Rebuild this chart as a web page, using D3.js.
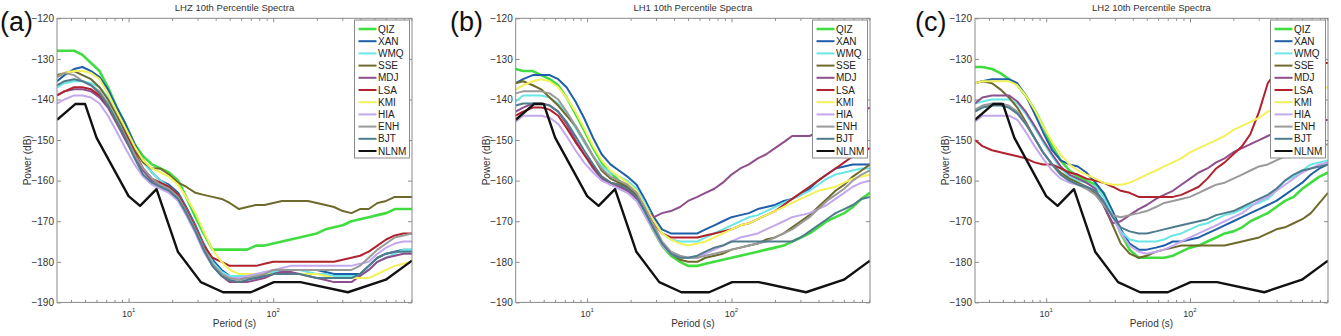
<!DOCTYPE html>
<html>
<head>
<meta charset="utf-8">
<script src="https://cdn.jsdelivr.net/npm/d3@7"></script>
<style>
  body { margin: 0; background: #fff; }
  svg { display: block; font-family: "Liberation Sans", Arial, sans-serif; }
  .tick text { fill: #333; font-size: 10px; }
  .domain { display: none; }
  .tick line { stroke: #8a8a8a; }
</style>
</head>
<body>
<script>
// period grid (s) shared by all station curves
const periods = [3.2, 3.6, 4.2, 4.8, 5.5, 6.3, 7.2, 8.3, 9.5, 11, 12.6, 14.5, 16.6, 19, 22, 25, 29, 33, 38, 44,
  50, 58, 66, 76, 87, 100, 115, 132, 152, 174, 200, 230, 263, 302, 347, 398, 457, 525, 603, 692, 794, 910];

const stations = ['QIZ', 'XAN', 'WMQ', 'SSE', 'MDJ', 'LSA', 'KMI', 'HIA', 'ENH', 'BJT'];
const stationColors = ['#40dc40', '#1f5fa8', '#6ae6e6', '#6e6a2c', '#8e4f8c', '#b0222e', '#f3f15a', '#c4a8ee', '#9a9a9a', '#4f7c8c'];

// Peterson new low noise model
const nlnmPeriod = [3.2, 4.3, 5.0, 6.0, 10, 12, 15.6, 21.9, 31.6, 45, 70, 101, 154, 328, 600, 910];
const nlnmPower = [-145, -141.1, -141.1, -149.4, -163.8, -166.2, -162.1, -177.5, -185, -187.5, -187.5, -185, -185, -187.5, -184.4, -179.7];

const yTicks = [-190, -180, -170, -160, -150, -140, -130, -120];
const xMajor = [10, 100];
const xMinor = [4, 5, 6, 7, 8, 9, 20, 30, 40, 50, 60, 70, 80, 90, 200, 300, 400, 500, 600, 700, 800, 900];

// ---- LHZ ----
const LHZ_QIZ = [-128,-128,-128,-129,-131,-133,-137,-142,-146,-151, -154,-156,-157,-158,-160,-164,-169,-173,-177,-177,
  -177,-177,-177,-176,-176,-175.5,-175,-174.5,-174,-173.5, -173,-172,-171.5,-171,-170,-169.5,-169,-168.5,-168,-167, -167,-167];
const LHZ_XAN = [-135.5,-134,-132.5,-132,-133,-134.5,-137.5,-142,-146,-151, -155,-158,-160,-161,-163,-166.5,-171,-175.5,-179.5,-182,
  -183.5,-184,-184,-184,-183.5,-183,-182,-182,-182,-182, -182,-182.5,-183,-183,-183,-183,-181,-179,-178,-177.5, -177,-177];
const LHZ_WMQ = [-137,-136,-135.5,-135.5,-136,-137,-139.5,-143.5,-147.5,-152, -155.5,-158,-160,-161.5,-163.5,-167,-171.5,-176,-180,-182.5,
  -183.5,-183.5,-183.5,-183,-183,-182.5,-182,-182,-182,-182.5, -183,-183,-183.5,-183.5,-183.5,-183.5,-182,-180,-179,-178, -177,-177];
const LHZ_SSE = [-134,-133.5,-133,-134,-135,-137,-140,-144,-148,-152.5, -155.5,-157,-157,-158.5,-160.5,-161.5,-163,-163.5,-164,-164.5,
  -165.5,-167,-166.5,-166,-166,-165.5,-165,-165,-165,-165, -165.5,-166,-166.5,-167.5,-168,-167,-167,-165.5,-165,-164, -164,-164];
const LHZ_MDJ = [-139,-138,-137.5,-137.5,-138,-139.5,-142,-146,-150,-154, -157.5,-160,-161,-162,-164,-167.5,-172,-177,-181,-183.5,
  -185,-185,-185,-184.5,-184,-183,-182.5,-182.5,-183,-183.5, -184,-184.5,-185,-185,-185,-183.5,-182,-180,-179,-178.5, -178,-178];
const LHZ_LSA = [-139,-138,-137,-137,-137.5,-139,-141.5,-145.5,-148.5,-153, -157,-159.5,-160.5,-161.5,-163.5,-167,-171.5,-176,-179,-180,
  -181,-181,-181,-181,-180.5,-180,-180,-180,-180,-180, -180,-180,-180,-179.5,-179,-178.5,-177.5,-176,-174.5,-173.5, -173,-173];
const LHZ_KMI = [-134.5,-133.5,-133,-133,-133.5,-135,-138.5,-143,-147,-151.5, -155,-157,-158,-159,-161,-164,-168,-172.5,-177,-180,
  -182,-183,-183,-183,-183,-183,-183,-183,-183,-183, -183,-183.5,-184,-184,-184,-184,-184,-183,-182,-181, -180.5,-180];
const LHZ_HIA = [-141,-140,-139,-139,-139.5,-141,-144,-148,-152,-156, -159,-161,-162,-163,-165,-168.5,-173,-177.5,-181,-183,
  -184,-184,-183.5,-183,-182.5,-182,-181.5,-181,-181,-181, -181,-181,-181,-181,-181,-180.5,-180,-178,-176.5,-175.5, -175,-175];
const LHZ_ENH = [-134.5,-133.5,-134,-135.5,-136.5,-138,-141,-145,-149,-153.5, -157,-159.5,-161,-162,-164,-167.5,-172,-176.5,-180.5,-183,
  -184,-184.5,-184,-183.5,-183,-182,-182,-182,-182,-182, -182,-182,-182,-182,-182,-181,-179,-177,-175.5,-174, -173.5,-173];
const LHZ_BJT = [-136.5,-135.5,-135,-135.5,-136.5,-138.5,-141.5,-145.5,-149.5,-154.5, -158.5,-160.5,-161.5,-162.5,-164.5,-168,-172.5,-177,-181,-183.5,
  -184.5,-185,-184.5,-184,-183.5,-183,-183,-183,-183,-183.5, -184,-184,-184,-184,-184,-183,-181,-179,-178,-177.5, -177.5,-177.5];

// ---- LH1 ----
const LH1_QIZ = [-132.5,-133,-133,-134,-135,-136.5,-139.5,-143.5,-147.5,-152, -155.5,-158,-160,-162,-164.5,-168,-172.5,-176,-178.5,-180,
  -181,-181,-180.5,-180,-179.5,-179,-178.5,-178,-177.5,-177, -176.5,-176,-175,-174,-173,-171.5,-170,-169,-168,-166.5, -164.5,-163];
const LH1_XAN = [-136,-135,-134,-134,-134,-135,-137,-140.5,-144.5,-149.5, -153.5,-156,-157.5,-159,-161,-164.5,-169,-172,-173,-173,
  -173,-173,-172,-171,-170,-169,-168.5,-168,-167,-166.5, -166,-165,-164.5,-163.5,-162,-160,-158.5,-157,-156.5,-156, -156,-156];
const LH1_WMQ = [-140.5,-139,-139,-139,-139.5,-141,-143.5,-147,-150.5,-154, -156.5,-158,-159,-160,-162,-165.5,-170,-173,-174.5,-175,
  -175,-175,-174,-173,-172,-171,-170,-169,-168.5,-167.5, -166.5,-165.5,-164.5,-163.5,-162.5,-161,-159.5,-158.5,-158,-157.5, -157,-157];
const LH1_SSE = [-136,-135.5,-136.5,-137.5,-139.5,-141.5,-144,-146.5,-150,-154, -157.5,-159.5,-160.5,-161.5,-163.5,-167,-171.5,-175.5,-178,-179.5,
  -180,-180,-179,-178.5,-178,-177,-176.5,-176,-175.5,-174.5, -174,-173,-171.5,-170,-168.5,-166.5,-164.5,-162.5,-161,-159, -157.5,-156];
const LH1_MDJ = [-143,-142,-141,-141,-141.5,-143,-146,-150,-153.5,-157, -159.5,-161,-161.5,-162.5,-164.5,-167,-169,-168,-167.5,-166.5,
  -165,-164,-163,-162,-160.5,-158.5,-157,-156,-154.5,-153.5, -152,-150.5,-149,-149,-149,-148,-147,-146,-145,-144, -143,-142];
const LH1_LSA = [-144,-143,-142,-142,-142.5,-144,-147,-150.5,-153.5,-156.5, -159,-160.5,-161,-162,-164,-167,-170.5,-173,-174,-174,
  -174,-174,-173.5,-173,-172.5,-172,-171,-170.5,-169.5,-168.5, -167.5,-166,-164.5,-163,-161.5,-160,-158.5,-157,-155.5,-154, -153,-152];
const LH1_KMI = [-137.5,-136.5,-135.5,-135,-135.5,-137,-139.5,-143,-147,-151.5, -155,-157.5,-159,-160.5,-162.5,-166,-170,-173,-174.5,-175.5,
  -176,-175.5,-175,-174,-173,-172,-171,-170.5,-169.5,-168.5, -167.5,-166.5,-165.5,-164.5,-163.5,-162.5,-162,-161.5,-160.5,-159.5, -159,-158.5];
const LH1_HIA = [-145.5,-144,-144,-144,-144.5,-146,-149,-152.5,-155.5,-158, -160,-161,-162,-163,-165,-168.5,-172.5,-176,-178,-179,
  -179,-179,-178,-177,-176,-175,-174,-173.5,-173,-172, -171,-170,-169,-168.5,-168,-167,-166,-164.5,-163,-161.5, -160.5,-160];
const LH1_ENH = [-138.5,-138,-138,-138,-138.5,-140,-143,-146.5,-150,-154, -157,-159,-160,-161,-163,-166.5,-171,-175,-177.5,-178.5,
  -179,-179,-178.5,-178,-177.5,-177,-176.5,-176,-175.5,-175, -174,-173,-172,-170.5,-169,-167,-165,-163.5,-162,-160, -158.5,-157.5];
const LH1_BJT = [-141.5,-141,-141,-141,-141.5,-143,-145.5,-149,-152.5,-156, -159,-160.5,-161,-162,-164,-167.5,-172,-175.5,-178,-179,
  -179,-178.5,-177.5,-176.5,-176,-175,-175,-175,-175,-175, -175,-175,-175,-174,-172.5,-171,-169.5,-168,-167,-166, -164.5,-164];

// ---- LH2 ----
const LH2_QIZ = [-132,-132,-132.5,-133.5,-135,-136.5,-139,-142.5,-146.5,-151.5, -155,-157.5,-159,-160,-161,-163,-168,-173,-177,-179,
  -179,-179,-179,-178.5,-177.5,-176.5,-176,-175,-174,-173, -172.5,-171.5,-170,-169,-168,-166.5,-165,-164,-162,-160.5, -159,-158];
const LH2_XAN = [-136,-135.5,-135,-135,-135,-136,-139,-143.5,-148,-152.5, -155,-156,-156.5,-158,-160.5,-163,-167.5,-172,-175.5,-177,
  -177,-176.5,-176,-175,-175,-174.5,-174,-173,-172,-171, -170,-169,-168,-167,-166,-165,-163.5,-162,-160.5,-158.5, -157,-156];
const LH2_WMQ = [-141,-140.5,-140,-140,-140,-141,-143.5,-147,-150.5,-154, -157,-159,-160,-160.5,-161.5,-164,-168.5,-172.5,-174.5,-175,
  -175,-175,-174.5,-173.5,-173,-172,-171,-170.5,-169.5,-168.5, -168,-167,-166,-165.5,-164.5,-162.5,-160,-159,-157.5,-156, -155.5,-155];
const LH2_SSE = [-136,-135.5,-136,-137.5,-139.5,-142,-145.5,-149.5,-153,-156, -158,-159.5,-160.5,-161.5,-163,-166,-171,-175.5,-178,-179,
  -178.5,-177.5,-177,-176.5,-176,-176,-176,-176,-176,-176, -175.5,-175,-174.5,-174,-173,-172,-171.5,-170.5,-169.5,-168, -165.5,-163];
const LH2_MDJ = [-141,-139.5,-139,-139,-139,-140.5,-143,-146.5,-150,-153.5, -156.5,-158.5,-159.5,-160.5,-162,-166,-170.5,-170,-168.5,-167,
  -166,-164.5,-163.5,-162.5,-161,-159.5,-158,-157,-155.5,-154.5, -153,-152,-151,-150,-149,-148,-147.5,-147,-146.5,-146, -145.5,-145];
const LH2_LSA = [-150,-151.5,-152.5,-153,-153.5,-154,-154.5,-155.5,-156,-156, -157,-158,-158.5,-159.5,-160,-160.5,-161.5,-162.5,-163,-164,
  -164,-164,-164,-164,-163.5,-162.5,-161.5,-159.5,-157,-155.5, -153.5,-151.5,-148.5,-143,-136,-133,-132.5,-132,-132,-131.5, -131,-131];
const LH2_KMI = [-136,-135.5,-135.5,-135.5,-135.5,-136.5,-139,-142.5,-146.5,-150.5, -153.5,-156,-157.5,-158.5,-159.5,-160.5,-161,-161,-160.5,-159.5,
  -158.5,-157.5,-156.5,-155.5,-154.5,-153,-152,-151,-150,-149, -147.5,-146.5,-145.5,-144.5,-143,-142,-141,-140,-139,-138, -137.5,-137];
const LH2_HIA = [-145.5,-144,-144,-144,-144,-145,-148,-151.5,-154.5,-157.5, -159.5,-160.5,-161,-161.5,-162.5,-165,-169,-173,-176,-177.5,
  -178,-177.5,-177,-176,-175,-174,-173,-172,-171,-170, -169,-168,-166.5,-165,-164,-162.5,-161,-159.5,-158,-157, -156,-155.5];
const LH2_ENH = [-142.5,-141.5,-141,-141,-141.5,-143,-146,-149.5,-153,-156, -158.5,-160,-161,-162,-163.5,-166,-168.5,-169,-168.5,-168,
  -167.5,-166.5,-165.5,-165,-164.5,-164,-163,-162,-161,-160.5, -159.5,-158.5,-157.5,-156.5,-156,-155,-154,-153,-152.5,-152, -151.5,-151];
const LH2_BJT = [-143,-142,-141.5,-141.5,-142,-143.5,-146,-149.5,-153,-156, -158.5,-160,-161,-161.5,-162.5,-165,-169,-171.5,-172.5,-173,
  -173,-172.5,-172,-171.5,-171,-170.5,-170,-169.5,-168.5,-168, -167.5,-166.5,-165.5,-164.5,-163.5,-162,-160,-158.5,-157.5,-157, -156.5,-156];

const W = 1341, H = 336;
const TOP = 18.3, BOTTOM = 302.4;

const panels = [
  { letter: '(a)', letterX: 0, title: 'LHZ 10th Percentile Spectra', left: 57, right: 412,
    series: [LHZ_QIZ, LHZ_XAN, LHZ_WMQ, LHZ_SSE, LHZ_MDJ, LHZ_LSA, LHZ_KMI, LHZ_HIA, LHZ_ENH, LHZ_BJT] },
  { letter: '(b)', letterX: 450, title: 'LH1 10th Percentile Spectra', left: 515.7, right: 870,
    series: [LH1_QIZ, LH1_XAN, LH1_WMQ, LH1_SSE, LH1_MDJ, LH1_LSA, LH1_KMI, LH1_HIA, LH1_ENH, LH1_BJT] },
  { letter: '(c)', letterX: 915, title: 'LH2 10th Percentile Spectra', left: 975, right: 1328,
    series: [LH2_QIZ, LH2_XAN, LH2_WMQ, LH2_SSE, LH2_MDJ, LH2_LSA, LH2_KMI, LH2_HIA, LH2_ENH, LH2_BJT] }
];

const svg = d3.select('body').append('svg')
  .attr('width', W)
  .attr('height', H);

panels.forEach((p, pi) => {
  const x = d3.scaleLog().domain([3.2, 910]).range([p.left, p.right]);
  const y = d3.scaleLinear().domain([-190, -120]).range([BOTTOM, TOP]);
  const g = svg.append('g');

  // panel letter and title
  g.append('text')
    .attr('x', p.letterX).attr('y', 31)
    .attr('font-size', 27).attr('fill', '#111')
    .text(p.letter);
  g.append('text')
    .attr('x', (p.left + p.right) / 2).attr('y', 11)
    .attr('text-anchor', 'middle').attr('font-size', 9.5).attr('fill', '#333')
    .text(p.title);

  // axes (ticks point inward)
  g.append('g')
    .attr('transform', `translate(${p.left},0)`)
    .call(d3.axisLeft(y).tickValues(yTicks).tickSizeInner(-4).tickSizeOuter(0).tickPadding(3));
  g.append('g')
    .attr('transform', `translate(${p.right},0)`)
    .call(d3.axisRight(y).tickValues(yTicks).tickSizeInner(-4).tickSizeOuter(0).tickFormat(''));
  [[BOTTOM, d3.axisBottom], [TOP, d3.axisTop]].forEach(([yy, ax]) => {
    g.append('g').attr('transform', `translate(0,${yy})`)
      .call(ax(x).tickValues(xMajor).tickSizeInner(-4).tickSizeOuter(0).tickFormat(''));
    g.append('g').attr('transform', `translate(0,${yy})`)
      .call(ax(x).tickValues(xMinor).tickSizeInner(-2.5).tickSizeOuter(0).tickFormat(''));
  });

  // 10^n labels
  const xl = g.append('g').selectAll('text').data(xMajor).join('text')
    .attr('x', d => x(d)).attr('y', 316.5)
    .attr('text-anchor', 'middle').attr('font-size', 9).attr('fill', '#333');
  xl.append('tspan').text('10');
  xl.append('tspan').attr('dy', -5).attr('font-size', 6).text(d => Math.round(Math.log10(d)));

  g.append('text')
    .attr('x', (p.left + p.right) / 2).attr('y', 327)
    .attr('text-anchor', 'middle').attr('font-size', 10).attr('fill', '#333')
    .text('Period (s)');
  g.append('text')
    .attr('transform', `translate(${p.left - 26},${(TOP + BOTTOM) / 2}) rotate(-90)`)
    .attr('text-anchor', 'middle').attr('font-size', 10).attr('fill', '#333')
    .text('Power (dB)');

  // curves
  const clipId = 'clip' + pi;
  svg.append('clipPath').attr('id', clipId).append('rect')
    .attr('x', p.left).attr('y', TOP)
    .attr('width', p.right - p.left).attr('height', BOTTOM - TOP);

  const line = d3.line().x(d => x(d[0])).y(d => y(d[1]));
  const plot = g.append('g').attr('clip-path', `url(#${clipId})`);

  p.series.forEach((vals, i) => {
    plot.append('path')
      .datum(d3.zip(periods, vals))
      .attr('fill', 'none')
      .attr('stroke', stationColors[i])
      .attr('stroke-width', i === 0 ? 2.6 : 2)
      .attr('stroke-linejoin', 'round')
      .attr('d', line);
  });
  plot.append('path')
    .datum(d3.zip(nlnmPeriod, nlnmPower))
    .attr('fill', 'none')
    .attr('stroke', '#111')
    .attr('stroke-width', 2.4)
    .attr('stroke-linejoin', 'round')
    .attr('d', line);

  // frame
  g.append('rect')
    .attr('x', p.left).attr('y', TOP)
    .attr('width', p.right - p.left).attr('height', BOTTOM - TOP)
    .attr('fill', 'none').attr('stroke', '#8a8a8a');

  // legend
  const names = stations.concat(['NLNM']);
  const colors = stationColors.concat(['#111']);
  const lw = 55, lx = p.right - 2.5 - lw;
  const leg = g.append('g');
  leg.append('rect')
    .attr('x', lx).attr('y', 20).attr('width', lw).attr('height', 138)
    .attr('fill', '#fff').attr('stroke', '#8a8a8a');
  names.forEach((n, i) => {
    const yy = 29 + i * 12.2;
    leg.append('line')
      .attr('x1', lx + 4).attr('x2', lx + 22).attr('y1', yy).attr('y2', yy)
      .attr('stroke', colors[i]).attr('stroke-width', i === 0 ? 2.6 : 2);
    leg.append('text')
      .attr('x', lx + 23.5).attr('y', yy + 3.6)
      .attr('font-size', 10).attr('fill', '#222')
      .text(n);
  });
});
</script>
</body>
</html>
